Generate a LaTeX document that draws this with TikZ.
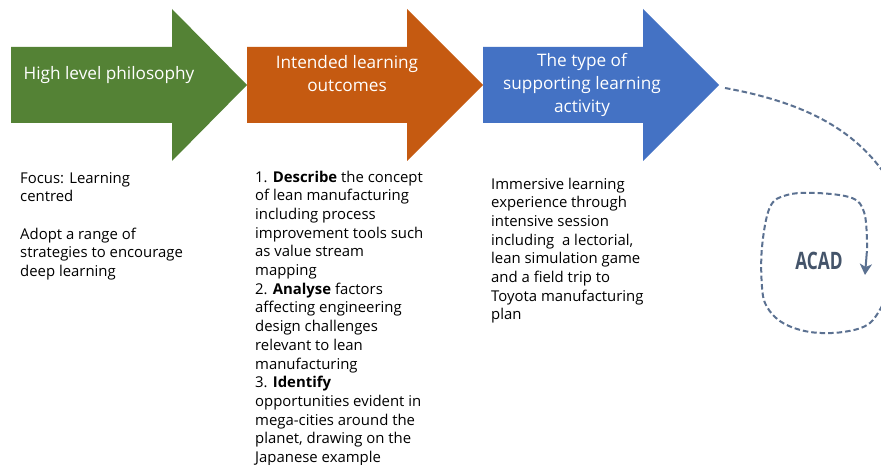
\documentclass[tikz,border=0pt]{standalone}
\usepackage{fontspec}
\setmainfont{Open Sans}
\usetikzlibrary{arrows.meta}
\definecolor{cgreen}{HTML}{548235}
\definecolor{corange}{HTML}{C55A11}
\definecolor{cblue}{HTML}{4472C4}
\definecolor{cdash}{HTML}{5B7191}
\definecolor{cacad}{HTML}{44546A}
\tikzset{
  arrtext/.style={text=white, font=\fontsize{17.2}{23}\selectfont, align=center, inner sep=0pt},
  bodytext/.style={text=black, font=\fontsize{14.9}{18.7}\selectfont, align=left, inner sep=0pt, anchor=north west},
  loopline/.style={cdash, line width=2pt, dash pattern=on 5.5pt off 3pt}
}
\begin{document}
\begin{tikzpicture}[x=1pt,y=-1pt]
\useasboundingbox (0,0) rectangle (881,465);
\fill[white] (0,0) rectangle (881,465);
% arrows
\fill[cgreen] (11,47) -- (172,47) -- (172,9) -- (247,85) -- (172,161) -- (172,123) -- (11,123) -- cycle;
\fill[corange] (247,47) -- (407,47) -- (407,9) -- (483,85) -- (407,161) -- (407,123) -- (247,123) -- cycle;
\fill[cblue] (483,47) -- (643,47) -- (643,9) -- (719,85) -- (643,161) -- (643,123) -- (483,123) -- cycle;
\node[arrtext] (a1) at (109,75) {High level philosophy};
\node[arrtext] (a2) at (347,74) {Intended learning\\outcomes};
\node[arrtext] (a3) at (582,85) {The type of\\supporting learning\\activity};
% body texts
\node[bodytext] (t1) at (20,172) {Focus: Learning\\centred\\[18.7pt]Adopt a range of\\strategies to encourage\\deep learning};
\node[bodytext] (t2) at (255,170.5) {1. \textbf{Describe} the concept\\of lean manufacturing\\including process\\improvement tools such\\as value stream\\mapping\\2. \textbf{Analyse} factors\\affecting engineering\\design challenges\\relevant to lean\\manufacturing\\3. \textbf{Identify}\\opportunities evident in\\mega-cities around the\\planet, drawing on the\\Japanese example};
\node[bodytext] (t3) at (491,177.5) {Immersive learning\\experience through\\intensive session\\including\ \ a lectorial,\\lean simulation game\\and a field trip to\\Toyota manufacturing\\plan};
% ACAD loop
\node[text=cacad, font=\fontsize{24}{26}\selectfont\bfseries, inner sep=0pt, xscale=0.72, transform shape] (acad) at (819,261) {ACAD};
\coordinate (s1) at (725,88);
\coordinate (e1) at (886,176);
\draw[loopline] (s1) .. controls (790,100) and (850,122) .. (e1);
\coordinate (s2) at (886,298);
\coordinate (e2) at (865,275);
\coordinate (p2) at (866.5,256);
\draw[loopline] plot[smooth, tension=0.6] coordinates {(886,298) (870,323) (843,332) (810,332) (783,323) (767,307) (762,287) (762,247) (770,207) (787,195) (817,193) (852,198) (864,212) (867,240) (866.5,256)};
\draw[cdash, line width=2pt, -{Stealth[length=11pt,width=12pt,inset=3pt]}] (p2) -- (e2);
\end{tikzpicture}
\end{document}
